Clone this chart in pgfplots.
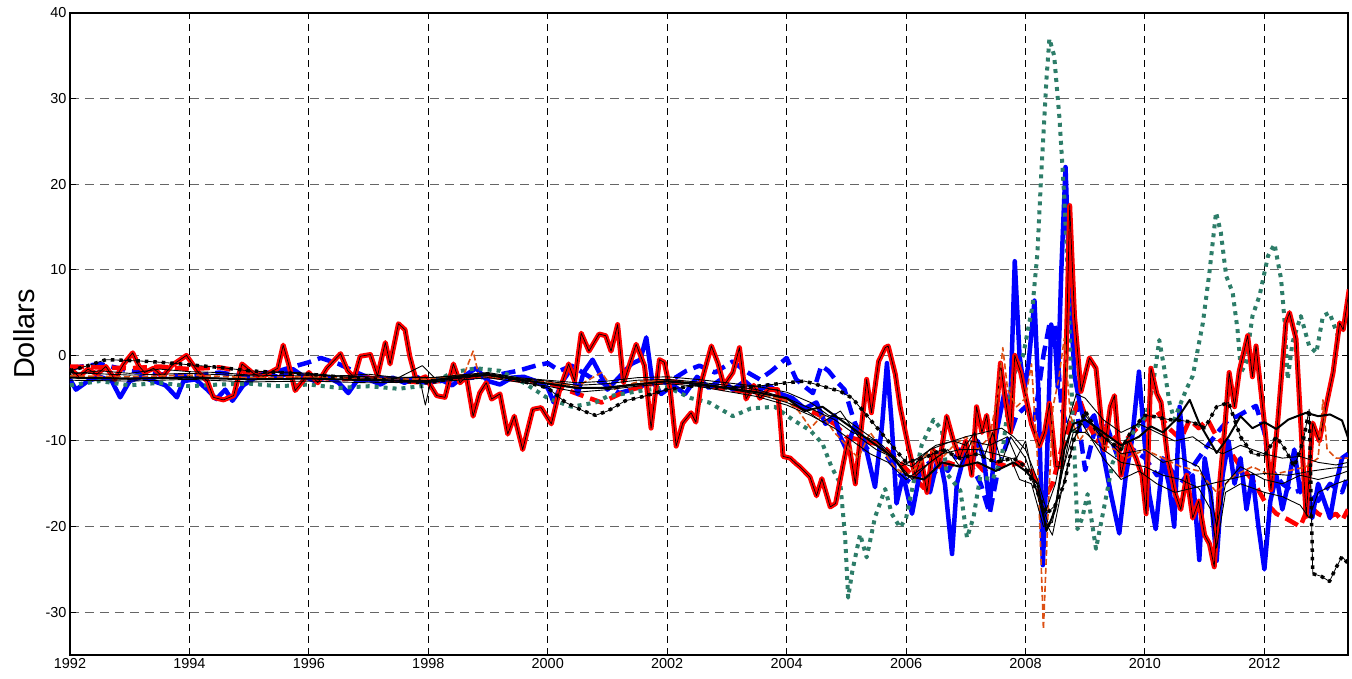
\documentclass[border=0pt]{standalone}
\usepackage{fontspec}
\setmainfont{Liberation Sans}
\usepackage{pgfplots}
\pgfplotsset{compat=1.18}
\definecolor{tealg}{RGB}{45,125,105}
\definecolor{orng}{RGB}{220,80,20}
\begin{document}
\begin{tikzpicture}
\begin{axis}[
 at={(0,0)}, anchor=south west,
 scale only axis, width=1278bp, height=642bp,
 xmin=1992, xmax=2013.4, ymin=-35, ymax=40,
 xtick={1992,1994,...,2012}, ytick={-30,-20,...,40},
 tick align=inside, major tick length=6bp,
 xmajorgrids, ymajorgrids,
 x grid style={black, dash pattern=on 7bp off 5bp, line width=0.9bp},
 y grid style={black!60, dash pattern=on 9bp off 6bp, line width=1bp},
 axis line style={line width=1.3bp},
 tick style={black, line width=1bp},
 ticklabel style={font=\fontsize{14.5}{16}\selectfont},
 /pgf/number format/assume math mode=true,
 /pgf/number format/1000 sep={},
 ylabel={Dollars},
 ylabel style={font=\fontsize{29}{32}\selectfont, at={(axis description cs:-0.0274,0.5)}, anchor=south, inner sep=0pt},
 every axis plot/.append style={line join=round},
]
% B2 blue dashed
\addplot[blue, line width=4.5bp, dash pattern=on 14bp off 7bp] coordinates {
(1992.0,-1.5)(1992.5,-1.0)(1993.0,-1.8)(1993.5,-2.2)(1994.0,-2.5)(1994.5,-2.0)(1995.0,-2.5)(1995.5,-1.8)(1996.0,-0.8)(1996.2,-0.3)(1996.5,-1.0)(1996.8,-2.0)(1997.0,-2.6)(1997.5,-2.8)(1998.0,-3.2)(1998.5,-2.7)(1999.0,-2.5)(1999.5,-1.8)(1999.8,-1.2)(2000.0,-0.9)(2000.2,-1.8)(2000.4,-1.2)(2000.7,-2.5)(2001.0,-3.5)(2001.2,-4.4)(2001.5,-3.8)(2001.76,-3.0)(2002.0,-3.2)(2002.32,-1.8)(2002.54,-1.2)(2002.8,-2.0)(2003.1,-0.7)(2003.3,-1.8)(2003.55,-2.8)(2003.75,-1.8)(2004.0,-0.3)(2004.16,-2.8)(2004.33,-3.8)(2004.44,-4.4)(2004.58,-1.2)(2004.7,-1.8)(2004.86,-3.2)(2004.97,-4.0)(2005.1,-7)(2005.3,-11)(2005.5,-10)(2005.7,-12)(2005.9,-14)(2006.1,-15)(2006.3,-13)(2006.5,-12)(2006.7,-13.5)(2006.9,-11)(2007.1,-13)(2007.25,-15)(2007.4,-18.5)(2007.55,-13)(2007.7,-10)(2007.85,-7)(2008.0,-6)(2008.15,-7.5)(2008.3,0)(2008.4,3.6)(2008.5,3.5)(2008.6,-6)(2008.72,-9)(2008.85,-6)(2009.0,-13.4)(2009.15,-9)(2009.35,-8)(2009.55,-12)(2009.8,-11)(2010.0,-12)(2010.2,-14)(2010.4,-13)(2010.6,-15)(2010.8,-13)(2011.0,-11)(2011.25,-8.7)(2011.4,-7.5)(2011.55,-7.1)(2011.7,-6.5)(2011.86,-5.9)(2012.0,-9)(2012.08,-13)(2012.3,-15)(2012.5,-16)(2012.7,-15.5)(2012.9,-17)(2013.1,-15)(2013.3,-16)(2013.4,-14)};
% R2 red dashed
\addplot[red, line width=4.5bp, dash pattern=on 14bp off 7bp] coordinates {
(1992.0,-1.3)(1992.5,-1.4)(1993.0,-1.5)(1993.5,-1.3)(1994.0,-1.6)(1994.5,-1.4)(1995.0,-2.0)(1995.5,-2.2)(1996.0,-2.5)(1996.5,-2.8)(1997.0,-2.6)(1997.5,-3.0)(1998.0,-3.2)(1998.5,-2.6)(1999.0,-2.4)(1999.5,-2.9)(2000.0,-3.2)(2000.5,-4.5)(2000.9,-5.5)(2001.3,-4.2)(2001.7,-3.4)(2002.0,-3.0)(2002.5,-3.3)(2003.0,-4.0)(2003.5,-4.3)(2003.8,-4.8)(2004.0,-5.2)(2004.2,-6.0)(2004.5,-6.8)(2004.8,-8.0)(2005.0,-9.5)(2005.3,-10.0)(2005.6,-10.5)(2005.9,-12.5)(2006.1,-14)(2006.3,-15.5)(2006.5,-13.5)(2006.7,-12.5)(2006.9,-13)(2007.1,-12)(2007.3,-13.5)(2007.5,-12.5)(2007.7,-13)(2007.9,-12.5)(2008.1,-13.5)(2008.3,-17)(2008.45,-15)(2008.6,-11)(2008.75,-8)(2008.9,-5)(2009.05,-8)(2009.2,-10)(2009.4,-9)(2009.6,-10.5)(2009.8,-9)(2010.0,-7.5)(2010.2,-6.5)(2010.4,-8.5)(2010.6,-9.8)(2010.75,-7.5)(2010.9,-8.5)(2011.05,-7.5)(2011.2,-9.5)(2011.4,-11)(2011.6,-13)(2011.8,-14.5)(2012.0,-17)(2012.2,-18.5)(2012.4,-19.2)(2012.6,-20)(2012.75,-17.5)(2012.9,-18.5)(2013.05,-19)(2013.2,-18.5)(2013.3,-19.3)(2013.4,-18)};
% B1 blue solid
\addplot[blue, line width=4.5bp] coordinates {
(1992.0,-2.8)(1992.1,-4.0)(1992.3,-3.0)(1992.5,-2.5)(1992.7,-3.0)(1992.84,-4.9)(1993.0,-3.0)(1993.2,-2.5)(1993.4,-3.0)(1993.6,-3.5)(1993.79,-4.9)(1993.9,-3.0)(1994.1,-2.8)(1994.3,-4.0)(1994.45,-5.1)(1994.6,-4.0)(1994.72,-5.3)(1994.9,-3.5)(1995.1,-2.6)(1995.3,-2.0)(1995.5,-2.6)(1995.73,-1.6)(1995.9,-2.4)(1996.1,-3.0)(1996.3,-2.5)(1996.5,-3.2)(1996.66,-4.4)(1996.8,-3.0)(1997.0,-2.8)(1997.2,-3.4)(1997.4,-2.6)(1997.6,-3.2)(1997.8,-2.5)(1998.0,-3.2)(1998.2,-2.8)(1998.4,-3.5)(1998.6,-2.4)(1998.8,-1.5)(1999.0,-3.0)(1999.2,-3.4)(1999.4,-2.6)(1999.6,-2.5)(1999.8,-3.0)(2000.0,-3.8)(2000.1,-5.5)(2000.25,-3.0)(2000.4,-1.5)(2000.5,-4.5)(2000.6,-2.0)(2000.75,-0.5)(2000.9,-2.5)(2001.0,-4.0)(2001.2,-2.5)(2001.4,-1.0)(2001.55,-0.5)(2001.65,2.1)(2001.75,-3.0)(2001.9,-4.5)(2002.1,-3.5)(2002.3,-4.5)(2002.5,-2.5)(2002.7,-3.8)(2002.9,-2.8)(2003.1,-4.0)(2003.3,-3.0)(2003.5,-4.2)(2003.7,-3.5)(2003.9,-4.5)(2004.1,-5.0)(2004.3,-6.2)(2004.5,-5.5)(2004.65,-8.0)(2004.8,-7.0)(2004.9,-9.5)(2005.0,-11)(2005.15,-8)(2005.3,-10)(2005.48,-15.4)(2005.6,-8)(2005.68,-0.9)(2005.76,-8)(2005.84,-17.3)(2005.95,-14)(2006.1,-18.5)(2006.25,-13)(2006.4,-16)(2006.55,-11.5)(2006.65,-15)(2006.77,-23.2)(2006.85,-15)(2007.0,-11)(2007.1,-13)(2007.2,-10)(2007.3,-12)(2007.4,-17.6)(2007.5,-9.5)(2007.65,-4.2)(2007.74,-7)(2007.82,11)(2007.9,0)(2007.98,-4)(2008.05,-1)(2008.15,6.4)(2008.22,-5)(2008.29,-24.5)(2008.36,-12)(2008.43,3.6)(2008.5,1)(2008.54,-3.7)(2008.6,10)(2008.67,22)(2008.74,8)(2008.82,-2.4)(2008.92,-6)(2009.01,-8.3)(2009.15,-7)(2009.29,-11.1)(2009.43,-16.2)(2009.57,-20.8)(2009.68,-14)(2009.78,-10)(2009.9,-1.9)(2009.98,-9)(2010.07,-16.2)(2010.18,-20.3)(2010.3,-12)(2010.4,-15)(2010.49,-20)(2010.58,-6)(2010.7,-15)(2010.8,-14)(2010.91,-23.9)(2011.0,-12)(2011.1,-16)(2011.2,-24)(2011.3,-14)(2011.4,-10)(2011.5,-15)(2011.6,-12)(2011.7,-18)(2011.8,-14)(2011.9,-20)(2012.0,-25)(2012.1,-17)(2012.2,-14)(2012.3,-18)(2012.4,-15)(2012.5,-11)(2012.6,-16)(2012.7,-14)(2012.8,-19)(2012.9,-15)(2013.0,-17)(2013.1,-19)(2013.2,-15)(2013.3,-12)(2013.4,-11.5)};
% G1 teal dotted
\addplot[tealg, line width=4bp, dash pattern=on 4bp off 5bp] coordinates {
(1992,-3.5)(1992.5,-3.0)(1993,-3.5)(1993.5,-3.2)(1994,-3.6)(1994.5,-3.4)(1995,-3.3)(1995.5,-3.6)(1996,-3.4)(1996.5,-3.8)(1997,-3.6)(1997.5,-3.9)(1998,-3.5)(1998.4,-2.0)(1998.8,-1.5)(1999.2,-1.8)(1999.6,-3.2)(2000.0,-5.0)(2000.4,-6.0)(2000.8,-5.5)(2001.0,-4.8)(2001.5,-4.2)(2002.0,-3.7)(2002.4,-5.0)(2002.7,-5.5)(2003.1,-7.1)(2003.4,-6.2)(2003.8,-6.0)(2004.1,-7.5)(2004.4,-8.8)(2004.6,-10.3)(2004.75,-13)(2004.9,-15)(2004.98,-21.3)(2005.03,-28.3)(2005.1,-25.2)(2005.23,-20.9)(2005.34,-23.6)(2005.48,-18.9)(2005.65,-15.6)(2005.76,-18.5)(2005.9,-20.1)(2006.0,-19)(2006.12,-15)(2006.26,-10.5)(2006.46,-7.5)(2006.6,-8.7)(2006.68,-13.8)(2006.91,-15.8)(2007.02,-21.3)(2007.13,-18.9)(2007.24,-14.2)(2007.45,-14.5)(2007.6,-12)(2007.69,-7)(2007.79,-2.4)(2007.96,0)(2008.12,5.9)(2008.2,12)(2008.26,20.7)(2008.35,32.2)(2008.4,37)(2008.48,35)(2008.57,27.6)(2008.65,18.4)(2008.71,9.2)(2008.76,-2.3)(2008.82,-11.6)(2008.87,-20.3)(2008.95,-19)(2009.04,-16.2)(2009.18,-22.6)(2009.32,-17.6)(2009.46,-12.5)(2009.63,-10.6)(2009.8,-9)(2010.02,-7)(2010.13,-3.7)(2010.24,1.8)(2010.32,-1.4)(2010.41,-5.5)(2010.49,-7.5)(2010.69,-4)(2010.8,-2.4)(2010.97,3.8)(2011.08,9.7)(2011.19,16.7)(2011.27,14.4)(2011.36,9.3)(2011.47,7.3)(2011.55,3)(2011.61,-2)(2011.69,-0.9)(2011.8,4.6)(2011.92,7)(2012.06,11.6)(2012.17,13)(2012.28,8.9)(2012.34,3.8)(2012.39,-2.8)(2012.47,1.5)(2012.61,4.6)(2012.75,1.1)(2012.87,0.3)(2012.98,4.6)(2013.09,5)(2013.23,2.3)(2013.34,3.4)(2013.4,3.5)};
% R1 red thick with black core
\pgfplotstableread{
x y
1992.0 -1.5
1992.15 -2.5
1992.3 -1.6
1992.45 -2.2
1992.6 -1.3
1992.75 -2.8
1992.9 -1.0
1993.05 0.3
1993.15 -1.2
1993.25 -2.0
1993.4 -1.5
1993.55 -2.5
1993.7 -1.2
1993.95 0.0
1994.05 -1.0
1994.15 -2.0
1994.3 -3.0
1994.4 -4.9
1994.57 -5.2
1994.74 -4.7
1994.88 -1.0
1995.05 -2.0
1995.2 -2.6
1995.35 -2.0
1995.48 -1.5
1995.57 1.2
1995.66 -1.0
1995.77 -4.1
1995.9 -3.0
1996.0 -2.0
1996.15 -3.2
1996.3 -1.5
1996.53 0.2
1996.65 -1.8
1996.76 -2.6
1996.86 -0.1
1997.03 0.1
1997.15 -2.4
1997.28 1.5
1997.36 -1.0
1997.5 3.7
1997.61 3.0
1997.69 -0.1
1997.8 -3.0
1997.95 -2.5
1998.14 -4.7
1998.28 -4.9
1998.42 -1.0
1998.53 -3.2
1998.64 -2.5
1998.75 -7.1
1998.86 -4.4
1998.97 -3.2
1999.06 -5.1
1999.2 -4.5
1999.33 -9.2
1999.44 -7.1
1999.58 -11
1999.75 -6.3
1999.89 -6.1
2000.06 -8.0
2000.2 -4.0
2000.35 -1.0
2000.45 -3.0
2000.56 2.6
2000.69 0.5
2000.86 2.5
2000.97 2.3
2001.06 0.5
2001.17 3.6
2001.27 -3.2
2001.48 1.3
2001.62 -1.2
2001.73 -8.5
2001.87 -0.5
2001.95 -0.8
2002.05 -4
2002.15 -10.6
2002.26 -7.9
2002.4 -6.7
2002.48 -7.8
2002.57 -3.2
2002.74 1.1
2002.85 -0.9
2002.95 -3.5
2003.1 -2.0
2003.21 0.9
2003.32 -5.1
2003.45 -3.5
2003.55 -5.0
2003.7 -4.0
2003.85 -4.0
2003.94 -11.8
2004.06 -12
2004.15 -12.6
2004.22 -13
2004.39 -14.2
2004.5 -16.4
2004.59 -14.4
2004.73 -17.7
2004.82 -17.3
2004.95 -12.6
2005.03 -9.9
2005.15 -15
2005.34 -2.8
2005.42 -6.7
2005.54 -0.7
2005.65 0.9
2005.7 1.1
2005.82 -2.2
2005.9 -6
2006.04 -10.7
2006.15 -14
2006.25 -12
2006.35 -16
2006.45 -11
2006.55 -13
2006.68 -7.1
2006.79 -9.9
2006.9 -12
2007.0 -10
2007.1 -14
2007.18 -6
2007.27 -9
2007.35 -7
2007.45 -12
2007.58 -0.9
2007.66 -5
2007.75 -9
2007.82 0
2007.92 -2
2008.0 -4.7
2008.1 -8
2008.23 -10.6
2008.32 -9
2008.4 -5.6
2008.51 -13
2008.6 -13
2008.68 0
2008.74 17.5
2008.82 4.6
2008.93 -4.2
2009.07 -0.3
2009.18 -1.5
2009.32 -11
2009.42 -6
2009.49 -4.7
2009.6 -14
2009.72 -10
2009.85 -12
2009.95 -14
2010.02 -18.5
2010.1 -1.5
2010.2 -4.5
2010.27 -5.5
2010.38 -12
2010.5 -16
2010.6 -18
2010.7 -14
2010.8 -19
2010.9 -17
2011.0 -21
2011.08 -22
2011.16 -24.7
2011.25 -15
2011.33 -9
2011.41 -2
2011.5 -6
2011.58 -1.8
2011.72 2.3
2011.8 -2.5
2011.86 1.1
2012.0 -7.9
2012.11 -15.7
2012.22 -8
2012.36 3.8
2012.42 5
2012.53 1.9
2012.64 -11.8
2012.7 -18.8
2012.81 -7.9
2012.92 -10
2013.03 -6
2013.15 -2
2013.26 3.8
2013.32 3
2013.42 7.7
}\rone
\addplot[red, line width=5bp] table[x=x,y=y] {\rone};
\addplot[black, line width=0.7bp] table[x=x,y=y] {\rone};
% O1 orange thin dashed
\addplot[orng, line width=1.6bp, dash pattern=on 6bp off 3bp] coordinates {
(1992,-2.4)(1993,-2.5)(1994,-2.3)(1995,-2.6)(1996,-2.5)(1997,-2.7)(1998,-2.8)(1998.6,-2.2)(1998.75,0.5)(1998.85,-2.5)(1999.5,-2.7)(2000,-3.1)(2000.5,-3.6)(2000.9,-2.0)(2001.1,-4.0)(2001.5,-3.1)(2002,-2.9)(2002.5,-3.3)(2003,-3.8)(2003.5,-4.4)(2004,-5.3)(2004.2,-6.5)(2004.4,-8.5)(2004.6,-7)(2004.8,-9)(2005.0,-10.5)(2005.2,-12)(2005.4,-9)(2005.6,-11)(2005.8,-13)(2006.0,-14)(2006.2,-13)(2006.4,-11)(2006.6,-12)(2006.8,-10.5)(2007.0,-9.5)(2007.2,-11)(2007.4,-9.5)(2007.55,-4)(2007.62,0.9)(2007.7,-4)(2007.85,-6)(2008.0,-5)(2008.1,-1)(2008.2,-12)(2008.3,-32)(2008.38,-18)(2008.46,-6)(2008.55,-3)(2008.65,2)(2008.75,-7)(2008.9,-10)(2009.1,-8)(2009.3,-10.5)(2009.5,-11)(2009.7,-12)(2010.0,-11)(2010.3,-12)(2010.6,-13)(2010.9,-13.5)(2011.2,-16)(2011.5,-14)(2011.8,-13)(2012.1,-14)(2012.4,-13.5)(2012.7,-13)(2012.9,-12)(2012.98,-5.2)(2013.05,-11)(2013.2,-12)(2013.4,-12)};
% K1 black dotted
\pgfplotstableread{
x y
1992 -1.8
1992.3 -1.2
1992.6 -0.5
1993.0 -0.6
1993.3 -0.7
1993.7 -0.9
1994.0 -1.1
1994.5 -1.4
1995 -1.8
1995.5 -2.0
1996 -2.2
1996.5 -2.5
1997 -2.7
1997.5 -3.0
1998 -3.2
1998.5 -2.6
1999 -2.2
1999.5 -2.9
2000 -3.8
2000.3 -5.5
2000.6 -6.5
2000.8 -7.0
2001.0 -6.5
2001.3 -5.3
2001.6 -4.8
2002.0 -4.0
2002.5 -3.5
2003.0 -3.8
2003.5 -3.6
2004.0 -3.2
2004.3 -3.0
2004.6 -3.6
2004.9 -4.2
2005.1 -5.0
2005.4 -7.5
2005.7 -10
2006.0 -12.5
2006.3 -12
2006.6 -11
2006.9 -12
2007.2 -11.5
2007.5 -12.5
2007.8 -12
2008.0 -13
2008.2 -16
2008.35 -18.5
2008.5 -17.5
2008.65 -15
2008.8 -10
2009.0 -6.5
2009.2 -9
2009.4 -10
2009.6 -11
2009.8 -8.5
2010.0 -7.0
2010.2 -7.2
2010.4 -7.5
2010.6 -7.6
2010.8 -7.8
2011.0 -8.5
2011.2 -6.0
2011.4 -5.5
2011.6 -9.5
2011.8 -11.5
2012.0 -11.7
2012.2 -9.5
2012.35 -11
2012.5 -13
2012.65 -10
2012.75 -6.3
2012.81 -25.5
2012.95 -25.8
2013.09 -26.4
2013.2 -24.8
2013.3 -23.5
2013.4 -24.3
}\kone
\addplot[black, line width=0.8bp] table[x=x,y=y] {\kone};
\addplot[black, line width=3.5bp, dash pattern=on 3.5bp off 5bp] table[x=x,y=y] {\kone};
% K2 black medium
\addplot[black, line width=2bp] coordinates {
(1992,-2.6)(1993,-2.7)(1994,-2.6)(1995,-2.8)(1996,-2.7)(1997,-2.9)(1998,-3.0)(1998.5,-2.5)(1999,-2.3)(1999.5,-2.8)(2000,-3.3)(2000.5,-3.8)(2001,-3.8)(2001.5,-3.4)(2002,-3.0)(2002.5,-3.3)(2003,-3.8)(2003.5,-4.3)(2004,-5.0)(2004.3,-6.5)(2004.6,-6.0)(2004.9,-7.5)(2005.2,-9)(2005.5,-10.5)(2005.8,-12)(2006.0,-14)(2006.3,-14.5)(2006.6,-12.5)(2006.9,-13)(2007.2,-12.5)(2007.5,-13.5)(2007.8,-12.5)(2008.0,-13.5)(2008.2,-15)(2008.35,-20.5)(2008.5,-18)(2008.65,-11)(2008.8,-8)(2009.0,-7.5)(2009.3,-9)(2009.6,-10.5)(2009.9,-9.5)(2010.1,-8.3)(2010.3,-9)(2010.55,-7.3)(2010.75,-5.2)(2010.9,-7.8)(2011.2,-11.4)(2011.4,-9.5)(2011.6,-7.1)(2011.8,-8.5)(2012.0,-7.8)(2012.2,-8.6)(2012.4,-7.5)(2012.7,-6.7)(2012.9,-7.1)(2013.1,-6.9)(2013.3,-7.6)(2013.4,-9.6)};
% thin black lines
\addplot[black, line width=0.9bp] coordinates {
(1992,-2.2)(1992.5,-1.8)(1993,-2.1)(1993.5,-1.6)(1994,-1.9)(1994.5,-2.0)(1995,-2.3)(1995.5,-1.9)(1996,-2.1)(1996.5,-2.4)(1997,-2.2)(1997.5,-2.6)(1997.9,-1.2)(1998.1,-2.6)(1998.5,-2.3)(1999,-2.0)(1999.5,-2.6)(2000,-2.9)(2000.5,-3.2)(2001,-3.0)(2001.5,-2.6)(2002,-2.5)(2002.5,-2.8)(2003,-3.2)(2003.5,-3.6)(2004,-4.3)(2004.4,-5.5)(2004.7,-7.0)(2005.0,-7.5)(2005.3,-9)(2005.6,-10.5)(2005.9,-12.5)(2006.1,-13)(2006.4,-11)(2006.7,-10.2)(2007.0,-9.5)(2007.3,-9)(2007.6,-8.5)(2007.8,-9.5)(2008.0,-11)(2008.2,-14.5)(2008.35,-18)(2008.5,-15)(2008.7,-8)(2008.85,-4.5)(2009.0,-5)(2009.3,-7.5)(2009.6,-9)(2009.9,-8)(2010.2,-9)(2010.5,-10)(2010.8,-9.5)(2011.0,-10.5)(2011.3,-11.5)(2011.6,-10.5)(2012.0,-11.5)(2012.3,-12)(2012.6,-11.8)(2012.9,-12.5)(2013.2,-12.8)(2013.4,-12.5)};
\addplot[black, line width=0.9bp] coordinates {
(1992,-2.6)(1993,-2.8)(1994,-2.5)(1995,-2.8)(1996,-2.7)(1997,-2.9)(1997.85,-2.5)(1997.95,-5.8)(1998.05,-2.8)(1998.5,-2.7)(1999,-2.3)(1999.5,-2.9)(2000,-3.3)(2000.5,-3.9)(2001,-3.7)(2001.5,-3.3)(2002,-3.1)(2002.5,-3.4)(2003,-3.9)(2003.5,-4.5)(2004,-5.5)(2004.3,-6.3)(2004.6,-7.8)(2004.9,-6.5)(2005.2,-9.5)(2005.5,-11)(2005.8,-12)(2006.1,-14.5)(2006.4,-12.5)(2006.7,-11)(2006.9,-13)(2007.1,-10)(2007.4,-10.5)(2007.7,-9.5)(2007.85,-12)(2008.0,-10)(2008.15,-15)(2008.3,-19)(2008.45,-21)(2008.6,-16)(2008.8,-10)(2009.0,-7)(2009.3,-9.5)(2009.6,-11.5)(2010.0,-11)(2010.3,-12.5)(2010.6,-12)(2010.9,-13)(2011.1,-16)(2011.2,-20)(2011.35,-15)(2011.6,-13)(2012.0,-14.5)(2012.3,-15)(2012.6,-14)(2012.9,-14.5)(2013.2,-14)(2013.4,-13.5)};
\addplot[black, line width=0.9bp] coordinates {
(1992,-2.9)(1993,-3.0)(1994,-2.8)(1995,-3.1)(1996,-3.0)(1997,-3.2)(1998,-3.1)(1998.5,-2.9)(1999,-2.6)(1999.5,-3.1)(2000,-3.6)(2000.5,-4.3)(2001,-4.0)(2001.5,-3.6)(2002,-3.3)(2002.5,-3.6)(2003,-4.2)(2003.5,-4.8)(2004,-5.8)(2004.4,-7.0)(2004.8,-8.5)(2005.1,-10)(2005.4,-11.5)(2005.7,-12.5)(2006.0,-14.5)(2006.3,-13)(2006.6,-11.5)(2006.9,-11)(2007.2,-11)(2007.5,-11.5)(2007.75,-12)(2007.9,-14.5)(2008.1,-15)(2008.3,-20)(2008.45,-19.5)(2008.6,-14)(2008.8,-9)(2009.0,-9)(2009.3,-11)(2009.6,-12.5)(2010.0,-13)(2010.3,-14)(2010.6,-14.5)(2010.9,-15.5)(2011.1,-18)(2011.2,-22.5)(2011.35,-16)(2011.6,-15)(2012.0,-16)(2012.3,-16.5)(2012.6,-17.5)(2012.75,-19)(2012.9,-16)(2013.2,-15)(2013.4,-14.5)};
\addplot[black, line width=0.9bp] coordinates {
(1992,-2.0)(1993,-2.3)(1994,-2.1)(1995,-2.4)(1996,-2.3)(1997,-2.5)(1998,-2.6)(1998.5,-2.4)(1999,-2.1)(1999.5,-2.7)(2000,-3.0)(2000.5,-3.5)(2001,-3.3)(2001.5,-2.9)(2002,-2.8)(2002.5,-3.1)(2003,-3.5)(2003.5,-4.0)(2004,-5.0)(2004.4,-6.2)(2004.8,-7.5)(2005.1,-9.0)(2005.5,-10)(2005.9,-13)(2006.2,-12)(2006.5,-10.5)(2006.8,-10)(2007.0,-10.5)(2007.15,-9)(2007.3,-12)(2007.45,-9)(2007.6,-12.5)(2007.75,-9.5)(2008.0,-12)(2008.2,-16)(2008.4,-20)(2008.55,-16)(2008.75,-9)(2008.95,-8)(2009.3,-12)(2009.6,-14.5)(2009.9,-13.5)(2010.2,-15)(2010.5,-16)(2010.8,-15.5)(2011.1,-15)(2011.4,-14.5)(2011.7,-14)(2012.0,-13.8)(2012.4,-14)(2012.8,-13.5)(2013.1,-13.2)(2013.4,-13)};
\end{axis}
\pgfresetboundingbox
\path[use as bounding box] (-70bp,-24bp) rectangle (1282bp,655bp);
\end{tikzpicture}
\end{document}
